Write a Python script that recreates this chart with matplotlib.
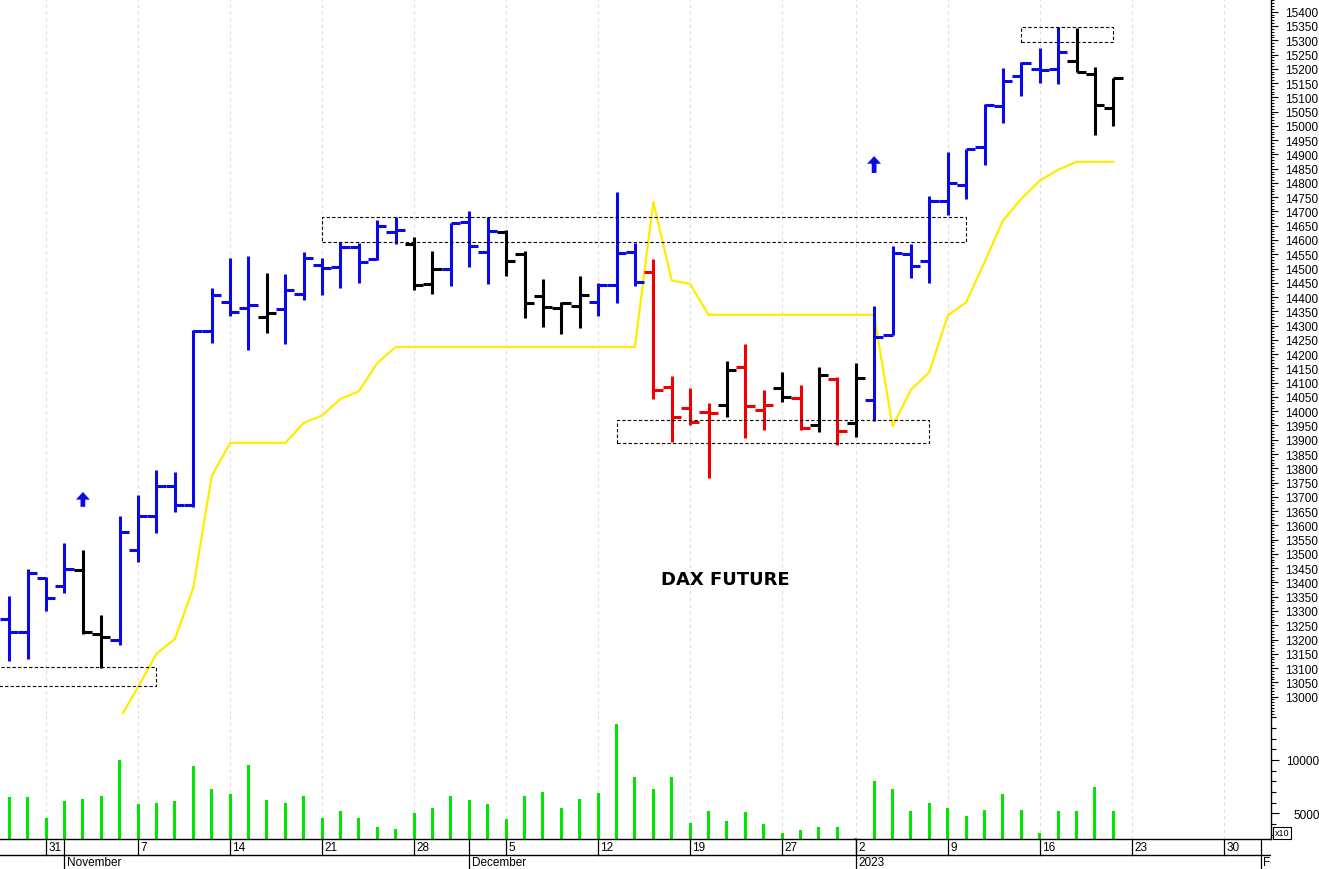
import matplotlib
matplotlib.use("Agg")
import matplotlib.pyplot as plt
import numpy as np
import pandas as pd
from matplotlib.collections import LineCollection
from matplotlib.patches import Rectangle

plt.rcParams['font.family'] = ['Liberation Sans', 'DejaVu Sans']

# trading days on the chart (no session on 26 Dec)
days = pd.bdate_range('2022-10-27', '2023-01-20').drop(pd.Timestamp('2022-12-26'))
# empty room on the right side of the chart
future_days = pd.bdate_range('2023-01-23', '2023-02-01')

opens = [13272, 13226, 13415, 13387, 13445, 13220, 13200, 13512, 13632, 13739,
         13673, 14280, 14382, 14361, 14329, 14358, 14411, 14513, 14504, 14575,
         14534, 14627, 14586, 14446, 14499, 14664, 14559, 14627, 14551, 14403,
         14361, 14368, 14383, 14442, 14557, 14487, 14084, 14010, 13996, 14022,
         14154, 14004, 14082, 14047, 13952, 14113, 13959, 14041, 14268, 14551,
         14526, 14738, 14794, 14927, 15070, 15176, 15199, 15199, 15226, 15182,
         15062]
highs = [13352, 13447, 13418, 13537, 13512, 13287, 13634, 13708, 13795, 13788,
         14286, 14431, 14536, 14543, 14484, 14481, 14557, 14537, 14592, 14590,
         14671, 14680, 14610, 14563, 14659, 14703, 14680, 14636, 14563, 14464,
         14382, 14475, 14450, 14767, 14590, 14534, 14123, 14080, 14028, 14177,
         14236, 14076, 14137, 14092, 14154, 14119, 14168, 14368, 14579, 14586,
         14755, 14907, 14919, 15077, 15202, 15225, 15272, 15345, 15342, 15205,
         15167]
lows = [13123, 13132, 13301, 13363, 13220, 13100, 13182, 13473, 13574, 13646,
        13664, 14239, 14335, 14216, 14274, 14236, 14391, 14407, 14431, 14450,
        14531, 14586, 14425, 14411, 14440, 14504, 14446, 14473, 14326, 14296,
        14271, 14291, 14335, 14379, 14440, 14043, 13891, 13950, 13765, 13979,
        13905, 13935, 14031, 13935, 13928, 13882, 13909, 13964, 14267, 14466,
        14450, 14689, 14744, 14863, 15010, 15106, 15150, 15147, 15188, 14968,
        15001]
closes = [13228, 13432, 13346, 13447, 13228, 13208, 13576, 13632, 13739, 13673,
          14280, 14407, 14347, 14372, 14344, 14426, 14536, 14501, 14575, 14524,
          14650, 14636, 14441, 14499, 14659, 14580, 14633, 14528, 14379, 14366,
          14379, 14407, 14442, 14555, 14452, 14075, 13979, 13961, 13994, 14145,
          14017, 14022, 14049, 13940, 14127, 13932, 14117, 14261, 14555, 14510,
          14738, 14800, 14919, 15073, 15156, 15220, 15197, 15258, 15190, 15073,
          15167]
# b = blue, k = black, r = red
bar_colors = "bbbbkkbbbbbbbbkbbbbbbbkkbbbkkkkkbbbrrrrkrrkrkrkbbbbbbbbbbbkkk"

# yellow stop line
stop = [np.nan, np.nan, np.nan, np.nan, np.nan, np.nan,
        12922, 13034, 13150, 13202, 13381, 13773, 13889, 13889, 13889, 13889,
        13959, 13985, 14043, 14070, 14169, 14225,
        14225, 14225, 14225, 14225, 14225, 14225, 14225, 14225, 14225, 14225,
        14225, 14225, 14225,
        14734, 14458, 14446,
        14338, 14338, 14338, 14338, 14338, 14338, 14338, 14338, 14338, 14338,
        13947, 14075, 14137, 14335, 14382, 14522, 14668, 14744, 14808, 14846,
        14874, 14874, 14874]

# volume (x10)
volume = [6500, 6500, 4530, 6180, 6370, 6600, 9970, 5870, 5970, 6180,
          9410, 7280, 6780, 9500, 6280, 5970, 6650, 4530, 5240, 4530,
          3690, 3530, 5000, 5470, 6620, 6220, 5870, 4470, 6620, 6970,
          5470, 6310, 6900, 13350, 8380, 7250, 8380, 4090, 5190, 4250,
          5090, 4000, 3180, 3400, 3690, 3740, 2680, 8030, 7280, 5190,
          5990, 5530, 4750, 5310, 6810, 5310, 3150, 5190, 5190, 7440,
          5190]

# dotted boxes: first bar, last bar, low, high
boxes = [(-2, 8, 13037, 13103),
         (17, 52, 14592, 14680),
         (33, 50, 13888, 13970),
         (55, 60, 15295, 15345)]
# blue arrows: bar, bottom, top
arrows = [(4, 13665, 13717), (47, 14835, 14894)]

colmap = {'b': '#0a0ae6', 'k': 'black', 'r': '#f00000'}
all_days = days.append(future_days)
x = np.arange(len(days))
XMIN, XMAX = -0.505, 68.57

W, H = 1319, 870
fig = plt.figure(figsize=(W / 100, H / 100), dpi=100)


def place(x0, y0, x1, y1):
    return [x0 / W, 1 - y1 / H, (x1 - x0) / W, (y1 - y0) / H]


ax = fig.add_axes(place(0, 0, 1271, 715))
axv = fig.add_axes(place(0, 715, 1271, 840))
axs = fig.add_axes(place(0, 840, 1271, 870))

# week / month starts
weeks = [i for i in range(1, len(all_days))
         if all_days[i].isocalendar()[1] != all_days[i - 1].isocalendar()[1]]
months = [i for i in range(1, len(all_days))
          if all_days[i].month != all_days[i - 1].month]

for a in (ax, axv):
    for g in weeks:
        a.axvline(g, color='#dedede', lw=0.8, ls=(0, (3, 3)), zorder=0)

# OHLC bars
segs, cols = [], []
for i in x:
    segs += [[(i, lows[i]), (i, highs[i])],
             [(i - 0.5, opens[i]), (i, opens[i])],
             [(i, closes[i]), (i + 0.5, closes[i])]]
    cols += [colmap[bar_colors[i]]] * 3
ax.add_collection(LineCollection(segs, colors=cols, linewidths=2.2, zorder=3))

ax.plot(x, stop, color='#ffec00', lw=1.6, zorder=2)

for b0, b1, lo, hi in boxes:
    ax.add_patch(Rectangle((b0, lo), b1 - b0, hi - lo, fill=False, ec='black',
                           lw=0.8, ls=(0, (3, 2)), zorder=4))

for i, lo, hi in arrows:
    ax.annotate('', xy=(i, hi), xytext=(i, lo),
                arrowprops=dict(facecolor='#0a0ae6', edgecolor='none', width=3.4,
                                headwidth=10, headlength=5.5, shrink=0))

ax.text(38.9, 13412, 'DAX FUTURE', ha='center', va='center', fontsize=13,
        fontweight='bold', family='DejaVu Sans')

ax.set_xlim(XMIN, XMAX)
ax.set_ylim(12939, 15444.5)
ax.yaxis.tick_right()
pticks = np.arange(13000, 15401, 50)
ax.set_yticks(pticks)
ax.set_yticklabels([str(v) for v in pticks])
ax.set_yticks(np.arange(12940, 15441, 10), minor=True)
ax.tick_params(axis='y', which='major', length=5, width=0.8, pad=5, labelsize=8.5)
ax.tick_params(axis='y', which='minor', length=2.5, width=0.7)
ax.set_xticks([])
for s in ('left', 'top', 'bottom'):
    ax.spines[s].set_visible(False)
ax.spines['right'].set_linewidth(1)

# volume panel
axv.bar(x, volume, width=0.17, color='#00e600', zorder=2)
axv.set_xlim(XMIN, XMAX)
axv.set_ylim(2590, 14310)
axv.yaxis.tick_right()
axv.set_yticks([5000, 10000])
axv.set_yticklabels(['5000', '10000'])
axv.set_yticks(np.arange(3000, 14001, 1000), minor=True)
axv.tick_params(axis='y', which='major', length=6, width=0.8, pad=29, labelsize=8.5)
axv.tick_params(axis='y', which='minor', length=3.6, width=0.8)
for t in axv.get_yticklabels():
    t.set_horizontalalignment('right')
axv.set_xticks([])
for s in ('left', 'top', 'bottom'):
    axv.spines[s].set_visible(False)
axv.spines['right'].set_linewidth(1)

fig.text(1275 / W, 1 - 834 / H, 'x10', fontsize=6.5, ha='left', va='center',
         bbox=dict(boxstyle='square,pad=0.2', fc='white', ec='black', lw=0.8))

# date strip
axs.set_xlim(XMIN, XMAX)
axs.set_ylim(0, 30)
axs.axis('off')
axs.plot([XMIN, XMAX], [30, 30], color='black', lw=1, clip_on=False)
axs.plot([XMIN, XMAX], [14, 14], color='black', lw=1)
for i in weeks:
    axs.plot([i, i], [14, 30], color='black', lw=0.9)
    axs.text(i + 0.13, 22, str(all_days[i].day), ha='left', va='center',
             fontsize=8.5, clip_on=True)
for i in months:
    d = all_days[i]
    label = str(d.year) if d.month == 1 else d.strftime('%B')
    axs.plot([i, i], [0, 30], color='black', lw=0.9)
    axs.text(i + 0.13, 6.5, label, ha='left', va='center', fontsize=8.5,
             clip_on=True)

fig.savefig('out.png', dpi=100)
